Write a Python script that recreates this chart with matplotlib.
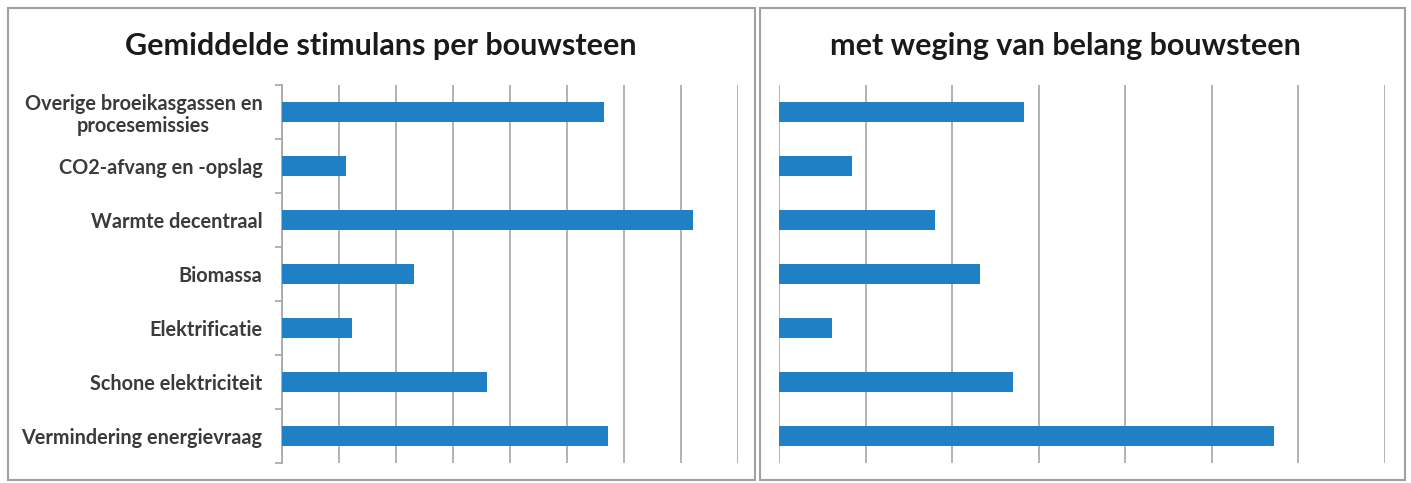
import numpy as np
import matplotlib.pyplot as plt
from matplotlib.patches import Rectangle

plt.rcParams['font.family'] = ['Lato', 'DejaVu Sans']

categories = ['Overige broeikasgassen en\nprocesemissies', 'CO2-afvang en -opslag',
              'Warmte decentraal', 'Biomassa', 'Elektrificatie',
              'Schone elektriciteit', 'Vermindering energievraag']
gemiddeld = [5.65, 1.12, 7.21, 2.32, 1.23, 3.6, 5.72]
gewogen = [2.83, 0.84, 1.80, 2.32, 0.61, 2.70, 5.72]

blue = '#1f80c6'
grid = '#a6a6a6'
W, H = 1411, 483

fig = plt.figure(figsize=(W / 100, H / 100), dpi=100)

# panel frames
for x0, x1 in [(8, 755), (760, 1405)]:
    fig.patches.append(Rectangle((x0 / W, 1 - 480 / H), (x1 - x0) / W, (480 - 8) / H,
                                 transform=fig.transFigure, fill=False,
                                 edgecolor='#a0a0a0', lw=1.5))


def panel(left, right, vals, xmax, title, tx, labels):
    ax = fig.add_axes([left / W, 1 - 463 / H, (right - left) / W, (463 - 85) / H])
    y = np.arange(len(vals))
    ax.barh(y, vals, height=0.38, color=blue, zorder=3)
    ax.set_ylim(len(vals) - 0.5, -0.5)
    ax.set_xlim(0, xmax)
    ax.set_xticks(np.arange(0, xmax + 1))
    ax.set_xticklabels([])
    ax.tick_params(axis='x', length=0)
    ax.grid(axis='x', color=grid, lw=1.2, zorder=0)
    for s in ['top', 'right', 'bottom']:
        ax.spines[s].set_visible(False)
    if labels:
        ax.spines['left'].set_color(grid)
        ax.spines['left'].set_linewidth(1.2)
        ax.set_yticks(y)
        ax.set_yticklabels(categories, fontsize=14.3, fontweight='bold',
                           color='#3a3a3a', multialignment='center',
                           linespacing=1.15)
        ax.set_yticks(np.arange(-0.5, len(vals)), minor=True)
        ax.tick_params(axis='y', which='major', length=0, pad=14)
        ax.tick_params(axis='y', which='minor', length=5, color=grid, width=1.2)
    else:
        ax.spines['left'].set_visible(False)
        ax.set_yticks([])
    fig.text(tx / W, 1 - 46 / H, title, fontsize=22, fontweight='bold',
             ha='center', va='center', color='#1a1a1a')
    return ax


panel(282, 738, gemiddeld, 8, 'Gemiddelde stimulans per bouwsteen', 381, True)
panel(779, 1385, gewogen, 7, 'met weging van belang bouwsteen', 1065, False)

fig.savefig('out.png', dpi=100)
